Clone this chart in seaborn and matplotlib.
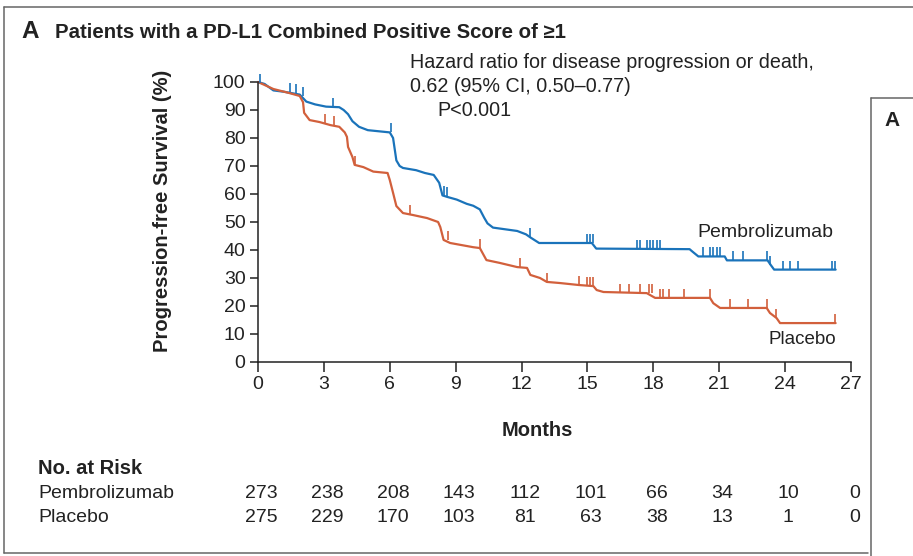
import numpy as np
import pandas as pd
import matplotlib
matplotlib.use("Agg")
import matplotlib.pyplot as plt
import matplotlib.transforms as mtransforms
from matplotlib.lines import Line2D
from matplotlib.path import Path
import seaborn as sns

# Kaplan-Meier curves (months, % progression-free)
pembro_t = [0, 0.3, 0.7, 1.2, 1.9, 2.2, 2.6, 3.1, 3.7, 3.9, 4.1, 4.3, 4.6, 5.0, 6.0,
            6.15, 6.3, 6.45, 6.6, 7.2, 7.6, 8.0, 8.25, 8.4, 8.6, 9.05, 9.5, 9.8, 10.1,
            10.3, 10.45, 10.7, 11.8, 12.2, 12.4, 12.8, 15.2, 15.4, 19.65, 19.8, 20.05,
            21.25, 21.35, 23.2, 23.35, 23.5, 26.3]
pembro_s = [100, 99.3, 97, 96.5, 95.5, 93, 92, 91.2, 91, 90, 88.5, 86, 84, 82.8, 82,
            80, 72, 70, 69.3, 68.5, 67.5, 66.8, 64, 59.5, 59, 58, 56.5, 55.8, 54.5,
            51.5, 49.5, 48, 46.8, 45.6, 44.5, 42.5, 42.5, 40.5, 40.3, 39.3, 37.7,
            37.7, 36.3, 36.3, 34.6, 33, 33]
placebo_t = [0, 0.7, 1.45, 1.9, 2.05, 2.1, 2.35, 2.8, 3.3, 3.7, 3.95, 4.05, 4.1, 4.3,
             4.4, 4.8, 5.25, 5.9, 6.0, 6.15, 6.3, 6.6, 7.05, 7.7, 8.2, 8.3, 8.45, 8.75,
             9.8, 10.1, 10.4, 11.0, 11.8, 12.25, 12.4, 12.84, 13.15, 13.75, 14.6, 15.27,
             15.42, 15.73, 17.7, 18.08, 20.58, 20.73, 21.04, 23.16, 23.31, 23.61, 23.77,
             26.3]
placebo_s = [100, 97.5, 96, 95, 92.8, 89, 86.4, 85.7, 84.6, 84, 82, 80.4, 76.8, 73.2,
             70.4, 69.6, 68, 67.5, 65, 60.4, 55.7, 53.2, 52.5, 51.4, 50, 48.2, 43.6, 42.5,
             41, 40.7, 36.4, 35.4, 33.9, 33.6, 31.1, 30, 28.6, 28.2, 27.5, 27.1,
             25.7, 25, 24.6, 22.9, 22.9, 21, 19.3, 19.3, 17.5, 15.7, 13.9,
             13.9]

# censoring ticks
pembro_cens_t = [0.1, 1.45, 1.75, 2.05, 3.4, 6.05, 8.45, 8.6, 12.4, 14.97, 15.12, 15.27,
                 17.24, 17.4, 17.7, 17.85, 18.0, 18.15, 18.3, 20.28, 20.58, 20.73, 20.89,
                 21.04, 21.65, 22.1, 23.16, 23.31, 23.92, 24.23, 24.6, 26.12, 26.27]
pembro_cens_s = [99.8, 96.5, 96, 95, 91, 82, 59.5, 59.2, 44.5, 42.5, 42.5, 42.5,
                 40.4, 40.4, 40.4, 40.4, 40.4, 40.4, 40.4, 37.7, 37.7, 37.7, 37.7,
                 37.7, 36.3, 36.3, 36.3, 34.6, 33, 33, 33, 33, 33]
placebo_cens_t = [3.05, 3.46, 4.4, 6.9, 8.65, 10.1, 11.93, 13.15, 14.6, 14.97, 15.12,
                  15.27, 16.5, 16.9, 17.4, 17.78, 17.93, 18.3, 18.46, 18.7, 19.4, 20.6,
                  21.5, 22.3, 23.16, 23.6, 26.27]
placebo_cens_s = [85.5, 84.5, 70.5, 52.8, 43.5, 40.8, 34, 28.7, 27.5, 27.2, 27.2,
                  27.2, 24.6, 24.6, 24.6, 24.6, 24.6, 22.9, 22.9, 22.9, 22.9, 22.9,
                  19.3, 19.3, 19.3, 15.7, 13.9]

risk_months = [0, 3, 6, 9, 12, 15, 18, 21, 24, 27]
risk_pembro = [273, 238, 208, 143, 112, 101, 66, 34, 10, 0]
risk_placebo = [275, 229, 170, 103, 81, 63, 38, 13, 1, 0]

blue = "#1a73ba"
red = "#d2603c"
ink = "#222222"

sns.set_style("white")
plt.rcParams['font.family'] = ['Liberation Sans', 'DejaVu Sans']

W, H = 913, 556
fig = plt.figure(figsize=(W / 100, H / 100), dpi=100)
ax = fig.add_axes([258 / W, 1 - 362 / H, (851 - 258) / W, (362 - 82) / H])

def fx(x):
    return x / W

def fy(y):
    return 1 - y / H

sns.lineplot(x=pembro_t, y=pembro_s, sort=False, estimator=None, color=blue, lw=1.6, ax=ax)
sns.lineplot(x=placebo_t, y=placebo_s, sort=False, estimator=None, color=red, lw=1.6, ax=ax)

tick = Path([(0, 0), (0, 1)], [Path.MOVETO, Path.LINETO])
sns.scatterplot(x=pembro_cens_t, y=pembro_cens_s, marker=tick, s=150, color=blue,
                edgecolor=blue, linewidth=1.2, ax=ax, clip_on=False, zorder=3)
sns.scatterplot(x=placebo_cens_t, y=placebo_cens_s, marker=tick, s=150, color=red,
                edgecolor=red, linewidth=1.2, ax=ax, clip_on=False, zorder=3)

for ln in ax.lines:
    ln.set_clip_on(False)

ax.set_xlim(0, 27)
ax.set_ylim(0, 100)
ax.set_xticks(risk_months)
ax.set_yticks(range(0, 101, 10))
ax.set_xlabel("")
ax.set_ylabel("")
for side in ["top", "right"]:
    ax.spines[side].set_visible(False)
for side in ["left", "bottom"]:
    ax.spines[side].set_color(ink)
    ax.spines[side].set_linewidth(1.1)
ax.tick_params(axis="y", direction="out", length=6, width=1.1, color=ink,
               labelsize=14, labelcolor=ink, pad=3, left=True)
ax.tick_params(axis="x", direction="out", length=7, width=1.1, color=ink,
               labelsize=14, labelcolor=ink, pad=3, bottom=True)

# text
fig.text(fx(21), fy(32), "A", fontsize=17.5, fontweight="bold", color=ink, va="center")
fig.text(fx(55), fy(32), "Patients with a PD-L1 Combined Positive Score of \u22651",
         fontsize=14.7, fontweight="bold", color=ink, va="center")
fig.text(fx(410), fy(62), "Hazard ratio for disease progression or death,",
         fontsize=14.2, color=ink, va="center")
fig.text(fx(410), fy(87), "0.62 (95% CI, 0.50\u20130.77)", fontsize=14.2, color=ink, va="center")
fig.text(fx(437), fy(110), "P<0.001", fontsize=14.2, color=ink, va="center")
fig.text(fx(163), fy(211), "Progression-free Survival (%)", fontsize=14.5, fontweight="bold",
         rotation=90, color=ink, va="center", ha="center")
fig.text(fx(537), fy(430), "Months", fontsize=14.5, fontweight="bold", color=ink,
         va="center", ha="center")
fig.text(fx(697), fy(232), "Pembrolizumab", fontsize=14, color=ink, va="center")
fig.text(fx(768), fy(339), "Placebo", fontsize=13.5, color=ink, va="center")

fig.text(fx(38), fy(468), "No. at Risk", fontsize=14.5, fontweight="bold", color=ink, va="center")
fig.text(fx(38), fy(493), "Pembrolizumab", fontsize=14, color=ink, va="center")
fig.text(fx(38), fy(517), "Placebo", fontsize=14, color=ink, va="center")
trans = mtransforms.blended_transform_factory(ax.transData, fig.transFigure)
for m, a, b in zip(risk_months, risk_pembro, risk_placebo):
    ax.text(m + 0.15, fy(493), str(a), transform=trans, fontsize=14, color=ink,
            va="center", ha="center")
    ax.text(m + 0.15, fy(517), str(b), transform=trans, fontsize=14, color=ink,
            va="center", ha="center")

# panel frames
frame = "#666666"
fig.add_artist(Line2D([fx(4), 1], [fy(7), fy(7)], color=frame, lw=1.1))
fig.add_artist(Line2D([fx(4), fx(4)], [fy(7), fy(553)], color=frame, lw=1.1))
fig.add_artist(Line2D([fx(4), fx(868)], [fy(553), fy(553)], color=frame, lw=1.1))
fig.add_artist(Line2D([fx(871), fx(871)], [fy(98), 0], color=frame, lw=1.1))
fig.add_artist(Line2D([fx(871), 1], [fy(98), fy(98)], color=frame, lw=1.1))
fig.text(fx(884), fy(121), "A", fontsize=15, fontweight="bold", color=ink, va="center")

fig.savefig("out.png", dpi=100)
